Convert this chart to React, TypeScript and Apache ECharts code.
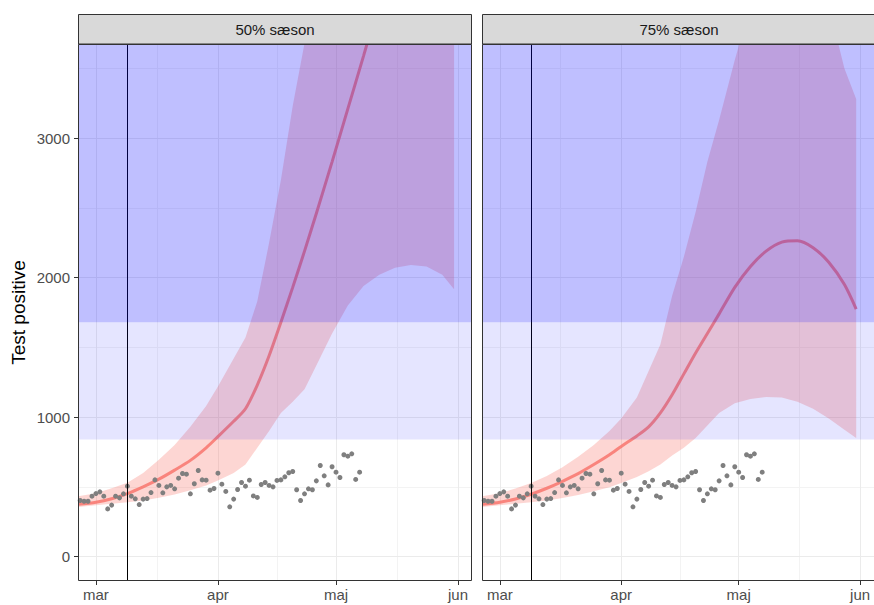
import React, { useEffect, useRef } from 'react';
import * as echarts from 'echarts';

// ---- Panels / axes ----
const PANELS = ['50% sæson', '75% sæson'];
const MONTH_TICKS = [0, 31, 61, 92]; // days since 1 March
const MONTH_LABELS = ['mar', 'apr', 'maj', 'jun'];
const MINOR_X = [15.5, 46, 76.5];
const Y_TICKS = [0, 1000, 2000, 3000];
const Y_MINOR = [500, 1500, 2500, 3500];
const X_MIN = -4.55;
const X_MAX = 95.55;
const Y_MIN = -175;
const Y_MAX = 3675;
const VLINE_DAY = 8; // 9 March
const BAND_LOW = 840;
const BAND_HIGH = 1680;

// ---- Observed test positives (daily, first day = 25 Feb) ----
const OBS_FIRST_DAY = -4;
const OBS_VALUES = [
  402, 397, 397, 433, 452, 464, 433, 342, 369, 433,
  421, 450, 505, 433, 414, 373, 412, 416, 459, 550,
  510, 457, 500, 510, 486, 562, 596, 591, 450, 522,
  617, 550, 548, 476, 488, 598, 519, 467, 357, 412,
  481, 531, 505, 548, 435, 424, 517, 531, 510, 500,
  546, 550, 572, 601, 610, 479, 402, 450, 486, 479,
  543, 653, 579, 514, 644, 605, 567, 730, 720, 737,
  553, 605,
];

// ---- Forecasts (days since 1 March) ----
const FC_DAYS = [-4.5, 0, 4, 8, 12, 16, 20, 24, 28, 31, 35, 38, 41, 44, 47, 50, 53, 56, 60, 64, 68, 72, 76, 80, 84, 88, 91];

const FC50_MID = [375, 390, 415, 452, 500, 555, 620, 690, 780, 860, 970, 1060, 1230, 1440, 1680, 1930, 2190, 2460, 2830, 3210, 3590, 3980, 4370, 4760, 5150, 5550, 5850];
const FC50_LO = [355, 368, 378, 390, 403, 422, 445, 475, 510, 545, 600, 660, 780, 900, 1030, 1110, 1200, 1370, 1600, 1800, 1940, 2020, 2070, 2090, 2080, 2020, 1917];
const FC50_HI = [432, 455, 490, 530, 600, 695, 800, 930, 1080, 1220, 1420, 1570, 1830, 2250, 2700, 3230, 3680, 4100, 4700, 5300, 5900, 6400, 6900, 7400, 7800, 8200, 8500];

const FC75_MID = [375, 390, 413, 447, 490, 540, 595, 660, 730, 790, 865, 930, 1030, 1160, 1310, 1460, 1600, 1740, 1930, 2080, 2190, 2255, 2265, 2215, 2110, 1950, 1775];
const FC75_LO = [355, 368, 378, 390, 402, 420, 442, 468, 498, 528, 570, 612, 660, 725, 780, 850, 940, 1030, 1100, 1130, 1145, 1140, 1110, 1060, 990, 910, 850];
const FC75_HI = [432, 455, 488, 528, 578, 640, 715, 800, 900, 990, 1140, 1330, 1520, 1870, 2150, 2470, 2830, 3130, 3560, 3950, 4250, 4400, 4420, 4300, 3950, 3500, 3280];

const FORECASTS = [
  { mid: FC50_MID, lo: FC50_LO, hi: FC50_HI },
  { mid: FC75_MID, lo: FC75_LO, hi: FC75_HI },
];

const FONT = 'Liberation Sans, Arial, Helvetica, sans-serif';
const PANEL_LEFT = [78, 482];
const PANEL_TOP = 44;
const PANEL_W = 394;
const PANEL_H = 537;

export default function App() {
  const ref = useRef<HTMLDivElement>(null);

  useEffect(() => {
    if (!ref.current) return;
    const chart = echarts.init(ref.current, undefined, { renderer: 'svg' });

    const obs = OBS_VALUES.map((v, i) => [OBS_FIRST_DAY + i, v]);

    const grids = PANEL_LEFT.map((l) => ({ left: l, top: PANEL_TOP, width: PANEL_W, height: PANEL_H }));

    const xAxes = PANELS.map((_, i) => ({
      type: 'value',
      gridIndex: i,
      min: X_MIN,
      max: X_MAX,
      position: 'bottom',
      axisLine: { show: false, onZero: false },
      axisTick: { show: true, customValues: MONTH_TICKS, length: 4, lineStyle: { color: '#333333' } },
      axisLabel: {
        customValues: MONTH_TICKS,
        formatter: (v: number) => {
          const k = MONTH_TICKS.indexOf(Math.round(v));
          return k >= 0 ? MONTH_LABELS[k] : '';
        },
        color: '#4d4d4d',
        fontSize: 15,
        fontFamily: FONT,
        margin: 6,
      },
      splitLine: { show: false },
    }));

    const yAxes = PANELS.map((_, i) => ({
      type: 'value',
      gridIndex: i,
      min: Y_MIN,
      max: Y_MAX,
      position: 'left',
      axisLine: { show: false, onZero: false },
      axisTick: { show: i === 0, customValues: Y_TICKS, length: 4, lineStyle: { color: '#333333' } },
      axisLabel: {
        show: i === 0,
        customValues: Y_TICKS,
        formatter: (v: number) => String(Math.round(v)),
        color: '#4d4d4d',
        fontSize: 15,
        fontFamily: FONT,
        margin: 8,
      },
      splitLine: { show: false },
      name: i === 0 ? 'Test positive' : '',
      nameLocation: 'middle',
      nameGap: 50,
      nameTextStyle: { fontSize: 19, color: '#000000', fontFamily: FONT },
    }));

    const series: any[] = [];
    PANELS.forEach((_, p) => {
      const fc = FORECASTS[p];
      const base = { xAxisIndex: p, yAxisIndex: p, animation: false, silent: true };
      const major = { color: '#ebebeb', width: 1, type: 'solid' };
      const minor = { color: '#f3f3f3', width: 1, type: 'solid' };
      // grid lines
      series.push({
        ...base,
        type: 'line',
        z: 0,
        data: obs,
        showSymbol: false,
        symbol: 'none',
        lineStyle: { opacity: 0 },
        markLine: {
          z: 0,
          silent: true,
          symbol: ['none', 'none'],
          label: { show: false },
          data: [
            ...MINOR_X.map((x) => ({ xAxis: x, lineStyle: minor })),
            ...Y_MINOR.map((y) => ({ yAxis: y, lineStyle: minor })),
            ...MONTH_TICKS.map((x) => ({ xAxis: x, lineStyle: major })),
            ...Y_TICKS.map((y) => ({ yAxis: y, lineStyle: major })),
          ],
        },
      });
      // prediction ribbon
      series.push({
        ...base,
        type: 'custom',
        z: 1,
        data: [[FC_DAYS[0], fc.lo[0]]],
        renderItem: (params: any, api: any) => {
          const upper = FC_DAYS.map((d, i) => api.coord([d, fc.hi[i]]));
          const lower = FC_DAYS.map((d, i) => api.coord([d, fc.lo[i]])).reverse();
          const cs = params.coordSys;
          return {
            type: 'polygon',
            shape: { points: upper.concat(lower) },
            style: { fill: 'rgba(248,118,109,0.3)' },
            clipPath: { type: 'rect', shape: { x: cs.x, y: cs.y, width: cs.width, height: cs.height } },
          };
        },
      });
      // forecast line
      series.push({
        ...base,
        type: 'line',
        z: 2,
        data: FC_DAYS.map((d, i) => [d, fc.mid[i]]),
        symbol: 'none',
        smooth: 0.25,
        lineStyle: { color: '#f8766d', width: 3, opacity: 0.85 },
      });
      // observed points + vertical line
      series.push({
        ...base,
        type: 'scatter',
        z: 3,
        data: obs,
        symbolSize: 5,
        itemStyle: { color: '#7f7f7f', opacity: 1 },
        markLine: {
          z: 4,
          silent: true,
          symbol: ['none', 'none'],
          label: { show: false },
          lineStyle: { color: '#000000', width: 1, type: 'solid' },
          data: [{ xAxis: VLINE_DAY }],
        },
      });
      // blue threshold bands on top
      series.push({
        ...base,
        type: 'line',
        z: 20,
        data: obs,
        symbol: 'none',
        showSymbol: false,
        lineStyle: { opacity: 0 },
        markArea: {
          z: 20,
          silent: true,
          label: { show: false },
          data: [
            [
              { xAxis: X_MIN, yAxis: BAND_LOW, itemStyle: { color: 'rgba(0,0,255,0.1)' } },
              { xAxis: X_MAX, yAxis: BAND_HIGH },
            ],
            [
              { xAxis: X_MIN, yAxis: BAND_HIGH, itemStyle: { color: 'rgba(0,0,255,0.25)' } },
              { xAxis: X_MAX, yAxis: Y_MAX },
            ],
          ],
        },
      });
    });

    const graphic: any[] = [];
    PANELS.forEach((label, p) => {
      graphic.push({
        type: 'rect',
        z: 100,
        shape: { x: PANEL_LEFT[p] + 0.5, y: 14.5, width: PANEL_W - 1, height: 29.5 },
        style: { fill: '#d9d9d9', stroke: '#333333', lineWidth: 1 },
      });
      graphic.push({
        type: 'text',
        z: 101,
        x: PANEL_LEFT[p] + PANEL_W / 2,
        y: 29,
        style: {
          text: label,
          fill: '#1a1a1a',
          font: `15px ${FONT}`,
          textAlign: 'center',
          textVerticalAlign: 'middle',
        },
      });
      graphic.push({
        type: 'rect',
        z: 100,
        shape: { x: PANEL_LEFT[p] + 0.5, y: PANEL_TOP + 0.5, width: PANEL_W - 1, height: PANEL_H - 1 },
        style: { fill: 'none', stroke: '#333333', lineWidth: 1 },
      });
    });

    chart.setOption({
      animation: false,
      backgroundColor: '#ffffff',
      grid: grids,
      xAxis: xAxes,
      yAxis: yAxes,
      series,
      graphic,
    });

    return () => chart.dispose();
  }, []);

  return (
    <div
      ref={ref}
      style={{ position: 'fixed', left: 0, top: 0, width: 874, height: 605 }}
    />
  );
}
